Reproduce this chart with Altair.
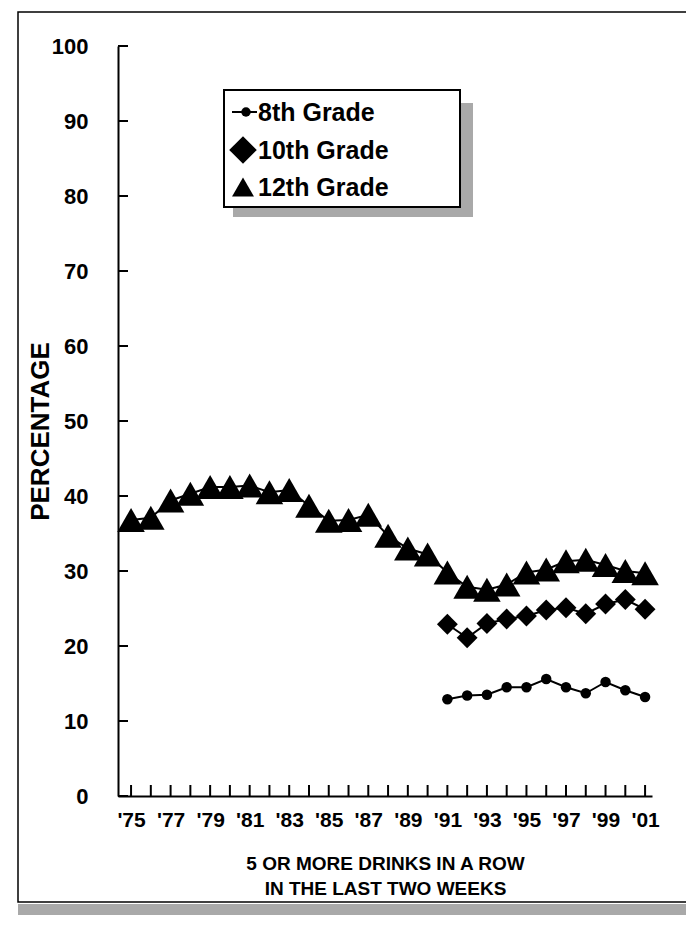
import altair as alt
import pandas as pd

# ---------------- data ----------------
grades = ["8th Grade", "10th Grade", "12th Grade"]
years_12 = list(range(1975, 2002))
grade12 = [36.8, 37.1, 39.4, 40.3, 41.2, 41.2, 41.4, 40.5, 40.8, 38.7, 36.7, 36.8,
           37.5, 34.7, 33.0, 32.2, 29.8, 27.9, 27.5, 28.2, 29.8, 30.2, 31.3, 31.5,
           30.8, 30.0, 29.7]
years_8_10 = list(range(1991, 2002))
grade10 = [22.9, 21.1, 23.0, 23.6, 24.0, 24.8, 25.1, 24.3, 25.6, 26.2, 24.9]
grade8 = [12.9, 13.4, 13.5, 14.5, 14.5, 15.6, 14.5, 13.7, 15.2, 14.1, 13.2]
x_label_years = list(range(1975, 2002, 2))
y_ticks = list(range(0, 101, 10))
tick_years = list(range(1975, 2002))
x_title = ["5 OR MORE DRINKS IN A ROW", "IN THE LAST TWO WEEKS"]
y_title = "PERCENTAGE"

rows = []
for y, v in zip(years_8_10, grade8):
    rows.append({"grade": grades[0], "year": y, "value": v})
for y, v in zip(years_8_10, grade10):
    rows.append({"grade": grades[1], "year": y, "value": v})
for y, v in zip(years_12, grade12):
    rows.append({"grade": grades[2], "year": y, "value": v})
df = pd.DataFrame(rows)

FONT = "Liberation Sans"
W, H = 534, 750
xscale = alt.Scale(domain=[1974.34, 2001.35], nice=False, zero=False)
yscale = alt.Scale(domain=[0, 100], nice=False)
one = pd.DataFrame({"d": [0]})

x_axis = alt.Axis(
    values=x_label_years, labelExpr="\"'\" + substring(toString(datum.value), 2, 4)",
    tickSize=0, labelPadding=13, labelFontSize=21, labelFontWeight="bold", labelColor="black",
    domainColor="black", domainWidth=2, grid=False, labelFlush=False, labelOverlap=False,
    title=x_title, titleFontSize=19, titleFontWeight="bold", titleColor="black",
    titleBaseline="alphabetic", titleY=73, titleLineHeight=25, titleX=W / 2)
y_axis = alt.Axis(
    values=y_ticks, tickSize=0, labelPadding=30, labelFontSize=22, labelFontWeight="bold",
    labelColor="black", domainColor="black", domainWidth=2, grid=False,
    title=y_title, titleFontSize=26, titleFontWeight="bold", titleColor="black",
    titleAngle=270, titleX=-78, titleY=385, titleAlign="center", titleBaseline="middle")

# ---------------- frame ----------------
frame_shadow = alt.Chart(one).mark_rect(fill="#a9a9a9").encode(
    x=alt.value(-100), x2=alt.value(600), y=alt.value(858), y2=alt.value(869))
frame = alt.Chart(one).mark_rect(fillOpacity=0, stroke="black", strokeWidth=1.5).encode(
    x=alt.value(-100), x2=alt.value(600), y=alt.value(-34), y2=alt.value(856))

# ---------------- axes ticks (inward) ----------------
yticks_layer = alt.Chart(pd.DataFrame({"value": y_ticks})).mark_rule(color="black", strokeWidth=2).encode(
    y=alt.Y("value:Q", scale=yscale, axis=y_axis), x=alt.value(0), x2=alt.value(10))
xticks_layer = alt.Chart(pd.DataFrame({"year": tick_years})).mark_rule(color="black", strokeWidth=2).encode(
    x=alt.X("year:Q", scale=xscale, axis=x_axis), y=alt.value(H), y2=alt.value(H - 11))

# ---------------- series ----------------
lines = alt.Chart(df).mark_line(color="black", strokeWidth=2).encode(
    x=alt.X("year:Q", scale=xscale, axis=x_axis),
    y=alt.Y("value:Q", scale=yscale, axis=y_axis), detail="grade:N")
points = alt.Chart(df).mark_point(filled=True, color="black", opacity=1).encode(
    x=alt.X("year:Q", scale=xscale, axis=x_axis),
    y=alt.Y("value:Q", scale=yscale, axis=y_axis),
    shape=alt.Shape("grade:N", scale=alt.Scale(domain=grades, range=["circle", "diamond", "triangle-up"]), legend=None),
    size=alt.Size("grade:N", scale=alt.Scale(domain=grades, range=[110, 760, 450]), legend=None))

# ---------------- legend (drawn) ----------------
lx0, lx1, ly0, ly1 = 106, 342, 44, 161
leg_shadow_r = alt.Chart(one).mark_rect(fill="#a9a9a9").encode(
    x=alt.value(lx1), x2=alt.value(lx1 + 13), y=alt.value(ly0 + 13), y2=alt.value(ly1 + 10))
leg_shadow_b = alt.Chart(one).mark_rect(fill="#a9a9a9").encode(
    x=alt.value(lx0 + 9), x2=alt.value(lx1 + 13), y=alt.value(ly1), y2=alt.value(ly1 + 10))
leg_box = alt.Chart(one).mark_rect(fill="white", stroke="black", strokeWidth=2).encode(
    x=alt.value(lx0), x2=alt.value(lx1), y=alt.value(ly0), y2=alt.value(ly1))

row_y = [66, 104, 141]
leg_layers = [leg_shadow_r, leg_shadow_b, leg_box]
leg_layers.append(alt.Chart(one).mark_rule(color="black", strokeWidth=2).encode(
    x=alt.value(114), x2=alt.value(139), y=alt.value(row_y[0])))
for g, ry, shp, sz in zip(grades, row_y, ["circle", "diamond", "triangle-up"], [90, 760, 480]):
    leg_layers.append(alt.Chart(one).mark_point(filled=True, color="black", opacity=1,
                                                shape=shp, size=sz).encode(
        x=alt.value(128 if shp == "circle" else 125), y=alt.value(ry)))
    leg_layers.append(alt.Chart(one).mark_text(text=g, align="left", baseline="middle",
                                               fontSize=25, font=FONT, fontWeight="bold",
                                               color="black").encode(
        x=alt.value(140), y=alt.value(ry + 1)))

chart = alt.layer(
    frame_shadow, frame, *leg_layers, yticks_layer, xticks_layer, lines, points
).properties(
    width=W, height=H,
    padding={"left": 110, "top": 38, "right": 34, "bottom": 133},
    autosize=alt.AutoSizeParams(type="none"),
    view=alt.ViewBackground(stroke="transparent", strokeWidth=0),
).configure(font=FONT, background="white", view=alt.ViewConfig(strokeWidth=0, stroke="transparent"))

chart.save("out.html", embed_options={"renderer": "svg", "actions": False})
